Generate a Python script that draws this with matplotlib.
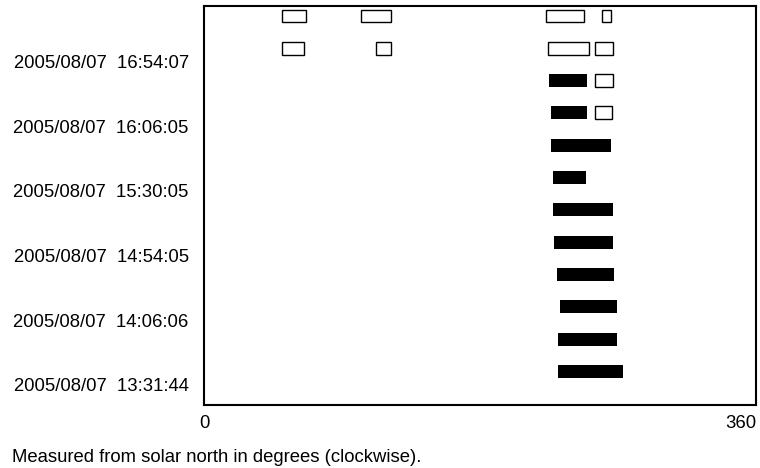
import matplotlib
matplotlib.use("Agg")
import matplotlib.pyplot as plt
from matplotlib.patches import Rectangle

plt.rcParams['font.family'] = ['Liberation Sans', 'DejaVu Sans']

# Rows from bottom (0) to top (11)
row_index = list(range(12))
filled_start = [230.9, 230.9, 232.2, 230.2, 228.3, 227.6, 227.6, 226.3, 226.3, 225.0, None, None]
filled_end   = [273.3, 269.3, 269.3, 267.4, 266.7, 266.7, 249.1, 265.4, 249.6, 249.6, None, None]
hollow_segments = [
    [], [], [], [], [], [], [], [],
    [(255.0, 266.1)],
    [(255.0, 266.7)],
    [(50.9, 65.4), (112.2, 122.0), (224.3, 251.1), (255.2, 266.7)],
    [(50.9, 66.5), (102.4, 122.0), (223.3, 248.0), (259.6, 265.4)],
]
tick_rows = [0, 2, 4, 6, 8, 10]
tick_labels = [
    "2005/08/07  13:31:44",
    "2005/08/07  14:06:06",
    "2005/08/07  14:54:05",
    "2005/08/07  15:30:05",
    "2005/08/07  16:06:05",
    "2005/08/07  16:54:07",
]
x_ticks = [0, 360]
caption = "Measured from solar north in degrees (clockwise)."

W, H = 760, 468
FS = 13.3
fig = plt.figure(figsize=(W / 100, H / 100), dpi=100)
ax = fig.add_axes([204 / W, (H - 405) / H, 552 / W, 399 / H])

bar_h = 0.40
for r, s, e in zip(row_index, filled_start, filled_end):
    if s is not None:
        ax.add_patch(Rectangle((s, r - bar_h / 2), e - s, bar_h,
                               facecolor='black', edgecolor='none'))
for r, segs in zip(row_index, hollow_segments):
    for s, e in segs:
        ax.add_patch(Rectangle((s, r - bar_h / 2), e - s, bar_h,
                               facecolor='white', edgecolor='black', linewidth=1.0))

ax.set_xlim(0, 360)
ax.set_ylim(-1.04, 11.31)

ax.set_yticks([t - 0.41 for t in tick_rows])
ax.set_yticklabels(tick_labels, fontsize=FS)
ax.set_xticks(x_ticks)
xl = ax.set_xticklabels([str(v) for v in x_ticks], fontsize=FS)
xl[-1].set_horizontalalignment('right')
ax.tick_params(axis='both', length=0)
ax.tick_params(axis='y', pad=11)
ax.tick_params(axis='x', pad=7)
for sp in ax.spines.values():
    sp.set_linewidth(1.5)

fig.text(12 / W, (H - 461.7) / H, caption, fontsize=FS, va='baseline', ha='left')

fig.savefig("out.png", dpi=100)
